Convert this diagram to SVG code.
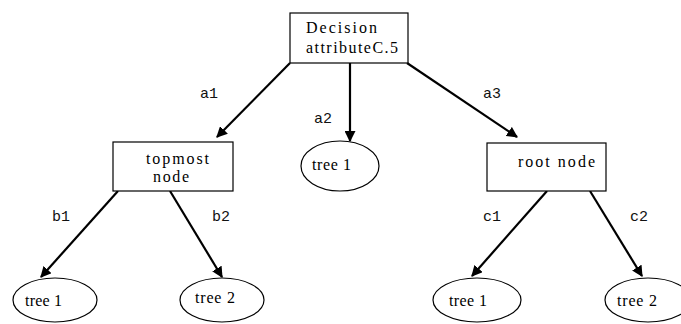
<svg xmlns="http://www.w3.org/2000/svg" width="681" height="324" viewBox="0 0 681 324">
<style>
.box{fill:#fff;stroke:#000;stroke-width:1.2}
.ell{fill:#fff;stroke:#000;stroke-width:1.2}
.nt{font-family:"Liberation Serif",serif;font-size:16px;fill:#000}
.lbl{font-family:"Liberation Mono",monospace;font-size:15px;fill:#111}
.edge{stroke:#000;stroke-width:2.2;fill:none;marker-end:url(#ah)}
</style>
<defs>
<marker id="ah" viewBox="0 0 10 10" refX="9" refY="5" markerWidth="5" markerHeight="5" orient="auto" markerUnits="strokeWidth">
<path d="M0,0 L10,5 L0,10 z" fill="#000"/>
</marker>
</defs>
<rect width="681" height="324" fill="#fff"/>
<g id="edges">
<line class="edge" x1="290" y1="63" x2="217" y2="137"/>
<line class="edge" x1="350" y1="63" x2="350" y2="141"/>
<line class="edge" x1="407" y1="63" x2="517" y2="137"/>
<line class="edge" x1="118" y1="191" x2="41" y2="277"/>
<line class="edge" x1="170" y1="191" x2="222" y2="277"/>
<line class="edge" x1="547" y1="191" x2="472" y2="276"/>
<line class="edge" x1="590" y1="191" x2="642" y2="276"/>
<text class="lbl" x="200" y="98">a1</text>
<text class="lbl" x="314" y="123">a2</text>
<text class="lbl" x="483" y="98">a3</text>
<text class="lbl" x="52" y="221">b1</text>
<text class="lbl" x="212" y="221">b2</text>
<text class="lbl" x="483" y="221">c1</text>
<text class="lbl" x="630" y="221">c2</text>
</g>
<g id="decision">
<rect class="box" x="290" y="13" width="118" height="50"/>
<text class="nt" x="306" y="33" textLength="71" lengthAdjust="spacing">Decision</text>
<text class="nt" x="306" y="53" textLength="92" lengthAdjust="spacing">attributeC.5</text>
</g>
<g id="topmost">
<rect class="box" x="113" y="142" width="120" height="49"/>
<text class="nt" x="146" y="164" textLength="63" lengthAdjust="spacing">topmost</text>
<text class="nt" x="153" y="182" textLength="36" lengthAdjust="spacing">node</text>
</g>
<g id="tree1mid">
<ellipse class="ell" cx="340" cy="166" rx="39" ry="25"/>
<text class="nt" x="312" y="170" textLength="39" lengthAdjust="spacing">tree 1</text>
</g>
<g id="root">
<rect class="box" x="487" y="143" width="119" height="48"/>
<text class="nt" x="518" y="167" textLength="77" lengthAdjust="spacing">root node</text>
</g>
<g id="tree1a">
<ellipse class="ell" cx="55" cy="300" rx="42" ry="22"/>
<text class="nt" x="25" y="306" textLength="37" lengthAdjust="spacing">tree 1</text>
</g>
<g id="tree2a">
<ellipse class="ell" cx="222" cy="300" rx="42" ry="22"/>
<text class="nt" x="195" y="303" textLength="40" lengthAdjust="spacing">tree 2</text>
</g>
<g id="tree1b">
<ellipse class="ell" cx="477" cy="300" rx="44" ry="22"/>
<text class="nt" x="449" y="306" textLength="38" lengthAdjust="spacing">tree 1</text>
</g>
<g id="tree2b">
<ellipse class="ell" cx="648" cy="300" rx="43" ry="22"/>
<text class="nt" x="617" y="306" textLength="40" lengthAdjust="spacing">tree 2</text>
</g>
</svg>
